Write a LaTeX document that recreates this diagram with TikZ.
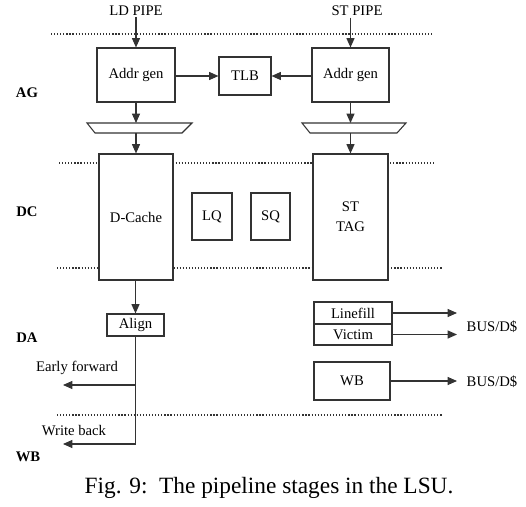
\documentclass[tikz,border=0pt]{standalone}
\usepackage{fontspec}
\setmainfont{Liberation Serif}
\usepackage{tikz}
\usetikzlibrary{arrows.meta, shapes.geometric, positioning, calc}
\definecolor{lineink}{HTML}{333333}

\begin{document}
\begin{tikzpicture}[x=0.75pt, y=-0.75pt,
    blk/.style={draw=lineink, line width=0.8pt, fill=white, inner sep=0pt, align=center, font=\fontsize{11}{15}\selectfont},
    muxline/.style={draw=lineink, line width=0.8pt, fill=white, line join=miter},
    stage/.style={font=\fontsize{11}{13}\selectfont\bfseries},
    lbl/.style={font=\fontsize{11}{13}\selectfont, inner sep=1pt},
    arr/.style={draw=lineink, line width=0.8pt, -{Triangle[length=7pt,width=6pt]}},
    stagesep/.style={lineink, line width=0.9pt, dash pattern=on 0.9pt off 1.4pt}]
  \useasboundingbox (0,0) rectangle (526,507);

  % Stage boundaries (drawn first, boxes cover them)
  \draw[stagesep] (51,34) -- (432,34);
  \draw[stagesep] (59,163) -- (435,163);
  \draw[stagesep] (57,268) -- (443,268);
  \draw[stagesep] (57,415) -- (443,415);

  % Stage names
  \node[stage] (sAG) at (27,93) {AG};
  \node[stage] (sDC) at (27,212) {DC};
  \node[stage] (sDA) at (27,338) {DA};
  \node[stage] (sWB) at (28,457) {WB};

  % Pipe inputs
  \node[lbl] (ldpipe) at (136,11) {LD PIPE};
  \node[lbl] (stpipe) at (357,11) {ST PIPE};

  % AG stage
  \node[blk, minimum width=58.5pt, minimum height=40.5pt] (agL) at (136,75) {Addr gen};
  \node[blk, minimum width=39pt, minimum height=28.5pt] (tlb) at (245,76) {TLB};
  \node[blk, minimum width=57.75pt, minimum height=40.5pt] (agR) at (350.5,75) {Addr gen};

  % Muxes after address generation
  \draw[muxline] (87,123) -- (192,123) -- (182,133) -- (95,133) -- cycle;
  \draw[muxline] (302,123) -- (406,123) -- (397,133) -- (310,133) -- cycle;
  \coordinate (muxLtop) at (139.5,123);
  \coordinate (muxLbot) at (139.5,133);
  \coordinate (muxRtop) at (354,123);
  \coordinate (muxRbot) at (354,133);

  % DC stage
  \node[blk, minimum width=55.5pt, minimum height=94.5pt] (dcache) at (136,217) {D-Cache};
  \node[blk, minimum width=30pt, minimum height=35.25pt] (lq) at (212,216.5) {LQ};
  \node[blk, minimum width=29.25pt, minimum height=35.25pt] (sq) at (270.5,216.5) {SQ};
  \node[blk, minimum width=56.25pt, minimum height=94.5pt] (sttag) at (350.5,217) {ST\\TAG};

  % DA stage
  \node[blk, minimum width=42.75pt, minimum height=16.5pt] (align) at (135.5,325) {Align};
  \node[blk, minimum width=58.5pt, minimum height=16.5pt] (linefill) at (353,313) {Linefill};
  \node[blk, minimum width=58.5pt, minimum height=15.75pt] (victim) at (353,334.5) {Victim};
  \node[blk, minimum width=57pt, minimum height=28.5pt] (wbuf) at (352,381) {WB};

  % Bus labels and free ends
  \node[lbl] (busA) at (492,327) {BUS/D\$};
  \node[lbl] (busB) at (492,382) {BUS/D\$};
  \coordinate (lfEnd) at (457,313);
  \coordinate (vcEnd) at (457,334.5);
  \coordinate (wbEnd) at (457,381);

  % Load side results
  \coordinate (efTap) at (135.5,385);
  \coordinate (efEnd) at (63,385);
  \coordinate (wbTurn) at (135.5,444);
  \coordinate (wbackEnd) at (63,444);
  \node[lbl] (eflbl) at (77,368) {Early forward};
  \node[lbl] (wblbl) at (74,431) {Write back};

  % Connectors
  \draw[arr] (ldpipe.south) -- (agL.north);
  \draw[arr] (agR.north |- stpipe.south) -- (agR.north);
  \draw[arr] (agL.east |- tlb.west) -- (tlb.west);
  \draw[arr] (agR.west |- tlb.east) -- (tlb.east);
  \draw[arr] (agL.south) -- (agL.south |- muxLtop);
  \draw[arr] (agR.south) -- (agR.south |- muxRtop);
  \draw[arr] (agL.south |- muxLbot) -- (dcache.north);
  \draw[arr] (agR.south |- muxRbot) -- (sttag.north);
  \draw[arr] (dcache.south -| align.north) -- (align.north);
  \draw[lineink, line width=0.8pt] (align.south) -- (wbTurn);
  \draw[arr] (wbTurn) -- (wbackEnd);
  \draw[arr] (efTap) -- (efEnd);
  \draw[arr] (linefill.east) -- (lfEnd);
  \draw[arr] (victim.east) -- (vcEnd);
  \draw[arr] (wbuf.east) -- (wbEnd);

  % Caption
  \node[font=\fontsize{17.5}{20}\selectfont] (caption) at (269,488) {Fig. 9:\ \ The pipeline stages in the LSU.};
\end{tikzpicture}
\end{document}
